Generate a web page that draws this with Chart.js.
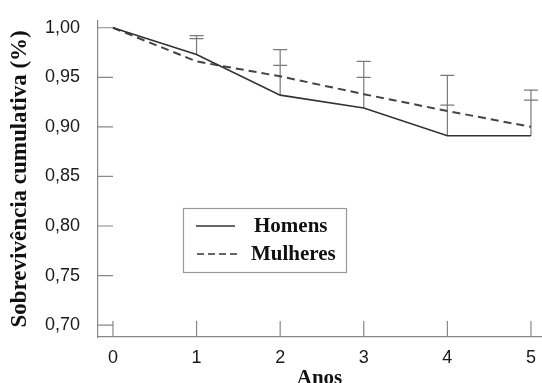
<!DOCTYPE html>
<html>
<head>
<meta charset="utf-8">
<script src="https://cdn.jsdelivr.net/npm/chart.js@4/dist/chart.umd.min.js"></script>
<style>
  html, body { margin: 0; padding: 0; background: #fff; }
  #wrap { width: 542px; height: 383px; }
</style>
</head>
<body>
<div id="wrap"><canvas id="chart"></canvas></div>
<script>
// values
const years = [0, 1, 2, 3, 4, 5];
const homens = [1.000, 0.973, 0.932, 0.919, 0.891, 0.891];
const mulheres = [1.000, 0.966, 0.951, 0.933, 0.916, 0.900];
// upper limits of the error bars (one cap per group)
const homensUpper = [null, 0.992, 0.978, 0.966, 0.952, 0.937];
const mulheresUpper = [null, 0.989, 0.962, 0.950, 0.922, 0.927];
const xTicks = [0, 1, 2, 3, 4, 5];
const yTicks = [0.70, 0.75, 0.80, 0.85, 0.90, 0.95, 1.00];

const axisColor = '#888';
const serif = '"Liberation Serif", "Times New Roman", serif';
const sans = '"Liberation Sans", Arial, sans-serif';

const toPoints = (vals) => years.map((x, i) => ({ x: x, y: vals[i] }));

// error bars + inward tick marks + legend box
const extras = {
  id: 'extras',
  beforeDatasetsDraw(chart) {
    const { ctx, scales: { x, y } } = chart;
    ctx.save();
    ctx.strokeStyle = '#7a7a7a';
    ctx.lineWidth = 1.2;
    years.forEach((yr, i) => {
      if (homensUpper[i] == null) return;
      const px = x.getPixelForValue(yr);
      const top = Math.max(homensUpper[i], mulheresUpper[i]);
      ctx.beginPath();
      ctx.moveTo(px, y.getPixelForValue(homens[i]));
      ctx.lineTo(px, y.getPixelForValue(top));
      [homensUpper[i], mulheresUpper[i]].forEach(v => {
        const py = y.getPixelForValue(v);
        ctx.moveTo(px - 7, py);
        ctx.lineTo(px + 7, py);
      });
      ctx.stroke();
    });
    ctx.restore();
  },
  afterDraw(chart) {
    const { ctx, scales: { x, y } } = chart;
    ctx.save();
    ctx.strokeStyle = axisColor;
    ctx.lineWidth = 1.2;
    ctx.beginPath();
    yTicks.forEach(v => {
      const py = y.getPixelForValue(v);
      ctx.moveTo(x.left, py);
      ctx.lineTo(x.left + 15, py);
    });
    xTicks.forEach(v => {
      const px = x.getPixelForValue(v);
      ctx.moveTo(px, y.bottom);
      ctx.lineTo(px, y.bottom - 16);
    });
    ctx.stroke();

    ctx.strokeStyle = '#999';
    ctx.strokeRect(183.5, 208.5, 163, 64);
    ctx.strokeStyle = '#333';
    ctx.lineWidth = 1.6;
    ctx.beginPath();
    ctx.moveTo(196, 226);
    ctx.lineTo(235, 226);
    ctx.stroke();
    ctx.setLineDash([7, 4]);
    ctx.beginPath();
    ctx.moveTo(197, 254);
    ctx.lineTo(238, 254);
    ctx.stroke();
    ctx.setLineDash([]);
    ctx.fillStyle = '#111';
    ctx.font = 'bold 21px ' + serif;
    ctx.textBaseline = 'middle';
    ctx.fillText('Homens', 254, 227);
    ctx.fillText('Mulheres', 251, 255);
    ctx.restore();
  }
};

new Chart(document.getElementById('chart'), {
  type: 'line',
  data: {
    datasets: [
      {
        label: 'Homens',
        data: toPoints(homens),
        borderColor: '#333',
        borderWidth: 1.6,
        pointRadius: 0,
        tension: 0
      },
      {
        label: 'Mulheres',
        data: toPoints(mulheres),
        borderColor: '#444',
        borderWidth: 2,
        borderDash: [8, 5],
        pointRadius: 0,
        tension: 0
      }
    ]
  },
  options: {
    responsive: true,
    maintainAspectRatio: false,
    animation: false,
    layout: { padding: { top: 18, right: 1, left: 0, bottom: 0 } },
    plugins: {
      legend: { display: false },
      tooltip: { enabled: false }
    },
    scales: {
      x: {
        type: 'linear',
        min: -0.179,
        max: 5.12,
        afterBuildTicks: (scale) => { scale.ticks = xTicks.map(v => ({ value: v })); },
        afterFit: (scale) => { scale.height = 46; },
        grid: { display: false },
        border: { display: true, color: axisColor, width: 1.2 },
        ticks: {
          padding: 2,
          color: '#1a1a1a',
          font: { family: sans, size: 18 },
          maxRotation: 0
        },
        title: {
          display: true,
          text: 'Anos',
          color: '#111',
          font: { family: serif, size: 21, weight: 'bold', lineHeight: 1 },
          padding: { top: 0, bottom: -6 }
        }
      },
      y: {
        type: 'linear',
        min: 0.688,
        max: 1.007,
        afterBuildTicks: (scale) => { scale.ticks = yTicks.map(v => ({ value: v })); },
        afterFit: (scale) => { scale.width = 98; },
        grid: { display: false },
        border: { display: true, color: axisColor, width: 1.2 },
        ticks: {
          padding: 10,
          color: '#1a1a1a',
          font: { family: sans, size: 18 },
          callback: (v) => v.toFixed(2).replace('.', ',')
        },
        title: {
          display: true,
          text: 'Sobrevivência cumulativa (%)',
          color: '#111',
          font: { family: serif, size: 23, weight: 'bold' },
          padding: { top: 6, bottom: 0 }
        }
      }
    }
  },
  plugins: [extras]
});
</script>
</body>
</html>
